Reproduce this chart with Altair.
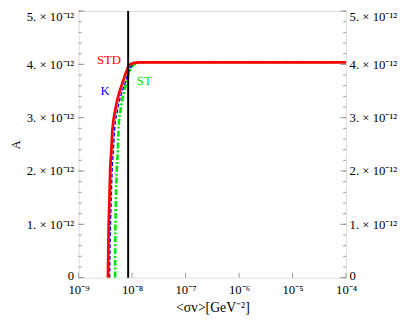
import altair as alt
import pandas as pd
import math

# ---- data ----
a_levels = [0.0, 0.927e-12, 1.477e-12, 2.028e-12, 2.394e-12, 2.761e-12, 3.128e-12, 3.312e-12,
            3.495e-12, 3.679e-12, 3.862e-12, 3.985e-12, 4.03e-12, 4.04e-12, 4.04e-12]

std_x = [3.543e-9, 3.650e-9, 3.775e-9, 3.904e-9, 4.108e-9, 4.285e-9, 4.823e-9, 5.246e-9,
         5.874e-9, 6.755e-9, 7.795e-9, 8.85e-9, 1.092e-8, 1.366e-8, 1e-4]
std_y = a_levels

k_x = [3.807e-9, 3.937e-9, 4.089e-9, 4.247e-9, 4.487e-9, 4.701e-9, 5.313e-9, 5.803e-9,
       6.531e-9, 7.568e-9, 8.70e-9, 9.96e-9, 1.229e-8, 1.617e-8, 1e-4]
k_y = a_levels

st_x = [4.823e-9, 4.863e-9, 4.945e-9, 5.093e-9, 5.402e-9, 5.635e-9, 6.054e-9, 6.478e-9,
        7.166e-9, 7.894e-9, 8.961e-9, 1.017e-8, 1.31e-8, 1.915e-8, 1e-4]
st_y = [0.0, 0.734e-12, 1.284e-12, 1.835e-12, 2.385e-12, 2.853e-12, 3.128e-12, 3.312e-12,
        3.495e-12, 3.679e-12, 3.862e-12, 3.972e-12, 4.028e-12, 4.04e-12, 4.04e-12]

vline_x = [8.45e-9]

label_text = ["STD", "K", "ST"]
label_x = [3.70e-9, 3.13e-9, 1.69e-8]
label_y = [4.08e-12, 3.50e-12, 3.68e-12]
label_color = ["#ff0000", "#0000ff", "#00e000"]

x_ticks = [1e-9, 1e-8, 1e-7, 1e-6, 1e-5, 1e-4]
x_tick_labels = ["10⁻⁹", "10⁻⁸", "10⁻⁷", "10⁻⁶", "10⁻⁵", "10⁻⁴"]
y_ticks = [0, 1e-12, 2e-12, 3e-12, 4e-12, 5e-12]
y_tick_labels = ["0", "1. × 10⁻¹²", "2. × 10⁻¹²", "3. × 10⁻¹²", "4. × 10⁻¹²", "5. × 10⁻¹²"]
y_minor = [i * 0.2e-12 for i in range(26)]

FONT = "Liberation Serif"
FRAME = "#999999"


def chain_expr(vals, labs, log=False):
    parts = []
    for v, l in zip(vals, labs):
        if log:
            cond = f"abs(log(datum.value)/LN10 - ({math.log10(v):.3f})) < 0.1"
        else:
            cond = f"abs(datum.value - {v}) < 1e-14"
        parts.append((cond, l))
    expr = "''"
    for cond, l in reversed(parts):
        expr = f"({cond}) ? '{l}' : {expr}"
    return expr


xscale = alt.Scale(type="log", domain=[1e-9, 1e-4])
yscale = alt.Scale(domain=[0, 5e-12], nice=False, zero=False)

curves = pd.DataFrame({
    "x": std_x + k_x + st_x,
    "y": std_y + k_y + st_y,
    "s": ["STD"] * len(std_x) + ["K"] * len(k_x) + ["ST"] * len(st_x),
    "i": list(range(len(std_x))) + list(range(len(k_x))) + list(range(len(st_x))),
})

end_baseline = {"condition": {"test": "datum.value > 4.9e-12", "value": "top"}, "value": "middle"}
end_offset = {"condition": {"test": "datum.value < 1e-13", "value": -2}, "value": 0}

xaxis = alt.Axis(values=x_ticks, labelExpr=chain_expr(x_ticks, x_tick_labels, log=True),
                 title="<σv>[GeV⁻²]", grid=False, domain=False, ticks=False,
                 labelFont=FONT, labelFontSize=13, labelColor="black", labelPadding=6,
                 titleFont=FONT, titleFontSize=14, titleFontWeight="normal", titlePadding=5,
                 titleColor="black", labelFlush=False)
yaxis_left = alt.Axis(values=y_ticks, labelExpr=chain_expr(y_ticks, y_tick_labels),
                      title="A", grid=False, domain=False, ticks=False,
                      labelFont=FONT, labelFontSize=13, labelColor="black", labelPadding=5,
                      labelBaseline=end_baseline, labelOffset=end_offset,
                      titleFont=FONT, titleFontSize=13, titleFontWeight="normal", titlePadding=4,
                      titleColor="black", labelFlush=False)
yaxis_right = alt.Axis(values=y_ticks, labelExpr=chain_expr(y_ticks, y_tick_labels),
                       orient="right", title=None, grid=False, domain=False, ticks=False,
                       labelFont=FONT, labelFontSize=13, labelColor="black", labelPadding=3,
                       labelBaseline=end_baseline, labelOffset=end_offset, labelFlush=False)

X = alt.X("x:Q", scale=xscale, axis=xaxis)


def line(name, color, width, dash=None, axis=None):
    kw = dict(color=color, strokeWidth=width, interpolate="monotone", clip=True)
    if dash:
        kw["strokeDash"] = dash
    return alt.Chart(curves).transform_filter(alt.datum.s == name).mark_line(**kw).encode(
        x=X,
        y=alt.Y("y:Q", scale=yscale, axis=axis),
        order="i:Q",
    )


st_line = line("ST", "#00e600", 2.6, [6, 2, 2, 2], axis=yaxis_left)
k_line = line("K", "#0000ff", 1.4, [4, 2])
std_line = line("STD", "#ff0000", 2.8)

vline = alt.Chart(pd.DataFrame({"x": vline_x})).mark_rule(color="black", strokeWidth=2).encode(
    x=X,
    y=alt.value(0), y2=alt.value(272),
)

labels = alt.Chart(pd.DataFrame({"t": label_text, "x": label_x, "y": label_y, "c": label_color})).mark_text(
    font=FONT, fontSize=13
).encode(
    x=X,
    y=alt.Y("y:Q", scale=yscale, axis=None),
    text="t:N",
    color=alt.Color("c:N", scale=None),
)

# inward frame ticks
ymaj = pd.DataFrame({"y": y_ticks})
ymin = pd.DataFrame({"y": y_minor})


def yrule(df, x0, x1):
    return alt.Chart(df).mark_rule(color=FRAME, strokeWidth=1).encode(
        y=alt.Y("y:Q", scale=yscale, axis=None), x=alt.value(x0), x2=alt.value(x1))


left_major = yrule(ymaj, 0, 6)
left_minor = yrule(ymin, 0, 3)
right_major = yrule(ymaj, 273, 267)
right_minor = yrule(ymin, 273, 270)
bottom_major = alt.Chart(pd.DataFrame({"x": x_ticks})).mark_rule(color=FRAME, strokeWidth=1).encode(
    x=X, y=alt.value(272), y2=alt.value(267))

right_axis_layer = alt.Chart(ymaj).mark_point(opacity=0).encode(
    y=alt.Y("y:Q", scale=yscale, axis=yaxis_right),
)

chart = alt.layer(
    st_line, k_line, std_line, vline, labels,
    left_major, left_minor, right_major, right_minor, bottom_major,
    right_axis_layer,
).resolve_axis(y="independent").properties(
    width=273, height=272,
    autosize=alt.AutoSizeParams(type="none"),
    padding={"left": 72, "top": 0, "right": 56, "bottom": 36},
).configure_view(stroke=FRAME, strokeWidth=1).configure(background="white")

chart.save("out.html", embed_options={"renderer": "svg", "actions": False})
